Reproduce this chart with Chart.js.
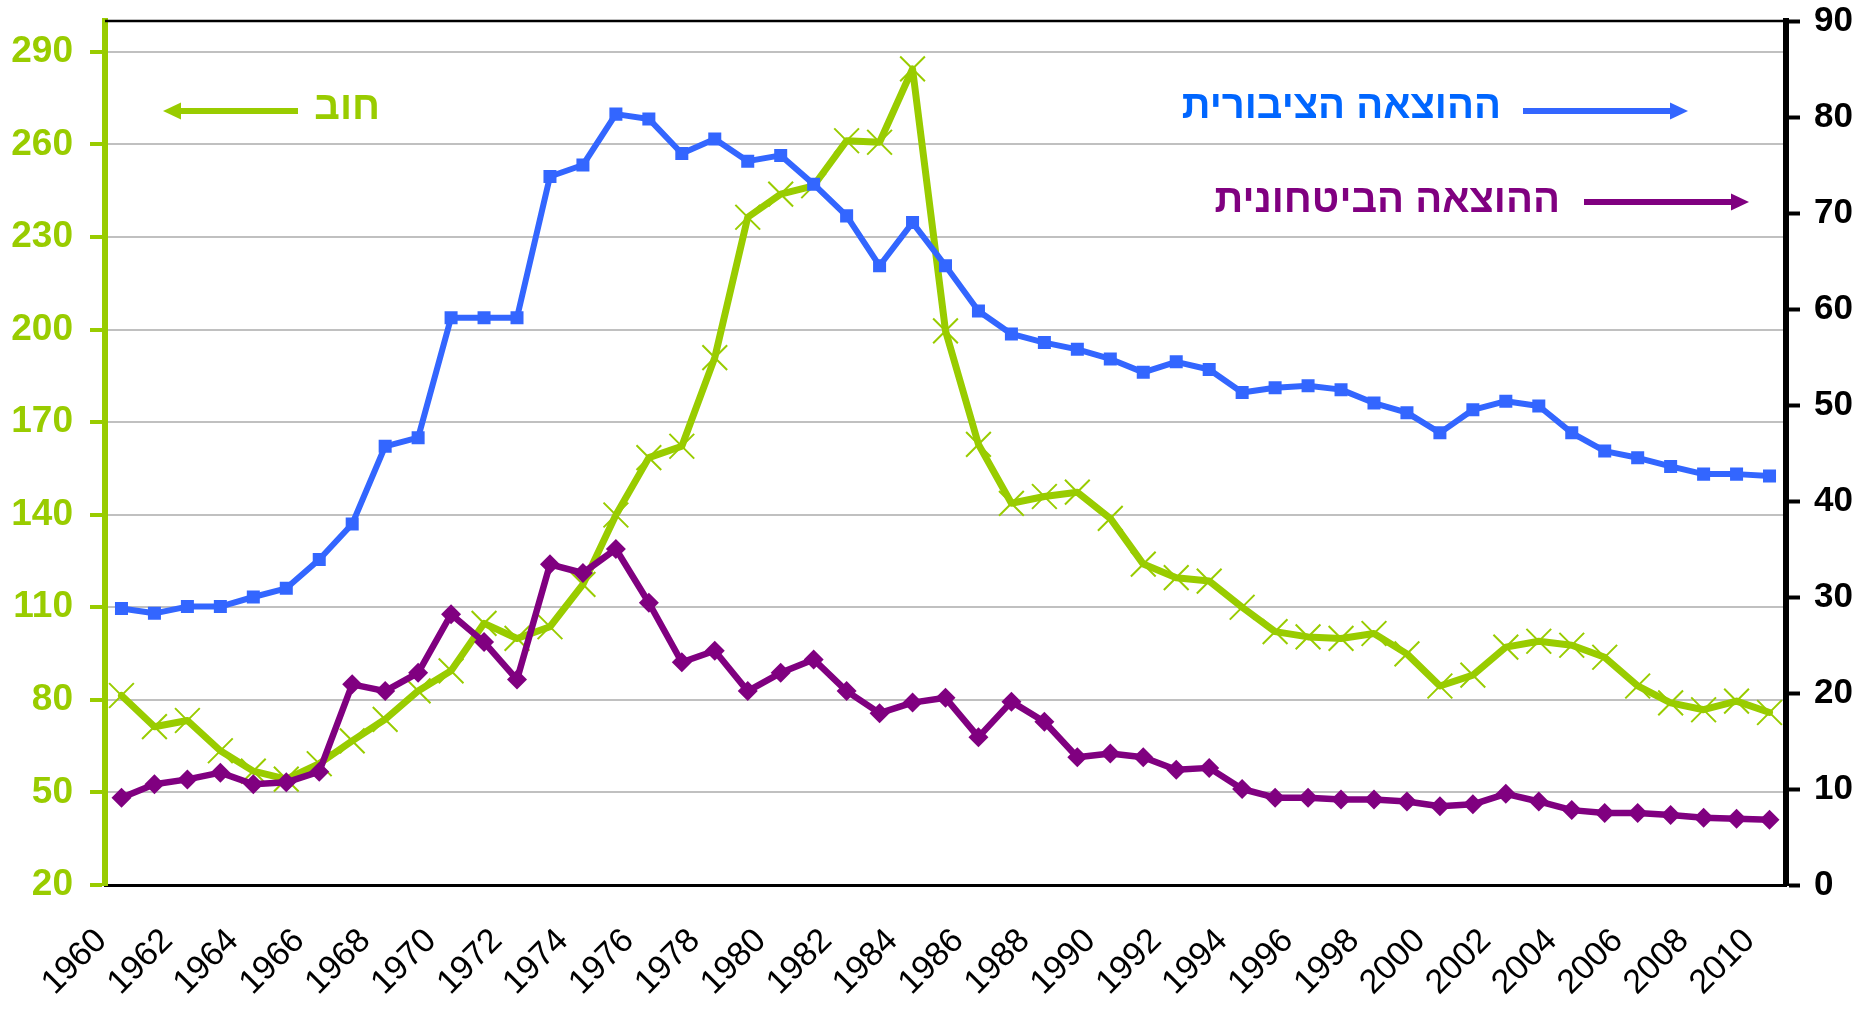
<!DOCTYPE html>
<html>
<head>
<meta charset="utf-8">
<script src="https://cdn.jsdelivr.net/npm/chart.js@4"></script>
<style>
  html, body { margin: 0; padding: 0; background: #fff; }
  canvas { display: block; }
</style>
</head>
<body>
<canvas id="debtChart" width="1875" height="1010"></canvas>
<script>
// שנים
const years = [1960, 1961, 1962, 1963, 1964, 1965, 1966, 1967, 1968, 1969,
    1970, 1971, 1972, 1973, 1974, 1975, 1976, 1977, 1978, 1979,
    1980, 1981, 1982, 1983, 1984, 1985, 1986, 1987, 1988, 1989,
    1990, 1991, 1992, 1993, 1994, 1995, 1996, 1997, 1998, 1999,
    2000, 2001, 2002, 2003, 2004, 2005, 2006, 2007, 2008, 2009, 2010];

// חוב (ציר שמאלי)
const debt = [81.4, 71.3, 73.3, 63.5, 56.9, 54.3, 59.3, 66.7, 73.7, 82.9,
    89.4, 104.8, 99.9, 103.7, 117.4, 139.9, 158.5, 162.2, 190.9, 236.4,
    243.9, 246.6, 261.2, 260.7, 284.5, 199.6, 162.8, 143.7, 145.9, 147.3,
    138.8, 124.0, 119.6, 118.5, 110.0, 102.1, 100.4, 99.9, 101.5, 94.9,
    84.5, 88.0, 97.1, 99.0, 97.7, 93.8, 84.5, 79.0, 76.8, 79.6, 75.9];

// ההוצאה הציבורית (ציר ימני)
const publicSpending = [28.8, 28.3, 29.0, 29.0, 30.0, 30.9, 33.9, 37.6, 45.7, 46.6,
    59.1, 59.1, 59.1, 73.8, 75.0, 80.3, 79.8, 76.2, 77.7, 75.4,
    76.0, 73.0, 69.7, 64.5, 69.0, 64.5, 59.8, 57.4, 56.5, 55.8,
    54.8, 53.4, 54.5, 53.7, 51.3, 51.8, 52.0, 51.6, 50.2, 49.2,
    47.1, 49.5, 50.4, 49.9, 47.1, 45.2, 44.5, 43.6, 42.8, 42.8, 42.6];

// ההוצאה הביטחונית (ציר ימני)
const defenseSpending = [9.1, 10.5, 11.0, 11.7, 10.5, 10.7, 11.8, 20.9, 20.2, 22.1,
    28.2, 25.3, 21.4, 33.4, 32.5, 35.0, 29.4, 23.2, 24.4, 20.2,
    22.1, 23.5, 20.2, 17.9, 19.0, 19.5, 15.4, 19.1, 17.0, 13.3,
    13.7, 13.3, 12.0, 12.2, 10.0, 9.1, 9.1, 8.9, 8.9, 8.7,
    8.2, 8.4, 9.5, 8.7, 7.8, 7.5, 7.5, 7.3, 7.0, 6.9, 6.8];

const leftTicks = [20, 50, 80, 110, 140, 170, 200, 230, 260, 290];
const rightTicks = [0, 10, 20, 30, 40, 50, 60, 70, 80, 90];

const GREEN = '#99cc00';
const BLUE = '#3366ff';
const PURPLE = '#800080';
const FONT = '"Liberation Sans", Arial, sans-serif';

Chart.defaults.font.family = FONT;

// חץ אופקי, הראש בנקודה x2
function drawArrow(ctx, x1, x2, y, color) {
    const dir = x2 > x1 ? 1 : -1;
    const headLen = 18, headHalf = 8.5;
    ctx.save();
    ctx.strokeStyle = color;
    ctx.fillStyle = color;
    ctx.lineWidth = 6;
    ctx.beginPath();
    ctx.moveTo(x1, y);
    ctx.lineTo(x2 - dir * headLen, y);
    ctx.stroke();
    ctx.beginPath();
    ctx.moveTo(x2, y);
    ctx.lineTo(x2 - dir * headLen, y - headHalf);
    ctx.lineTo(x2 - dir * headLen, y + headHalf);
    ctx.closePath();
    ctx.fill();
    ctx.restore();
}

const annotations = {
    id: 'annotations',
    afterDraw(chart) {
        const ctx = chart.ctx;
        const area = chart.chartArea;

        // קו עליון
        ctx.save();
        ctx.strokeStyle = '#000';
        ctx.lineWidth = 2.5;
        ctx.beginPath();
        ctx.moveTo(area.left, area.top);
        ctx.lineTo(area.right, area.top);
        ctx.stroke();

        ctx.font = 'bold 40px ' + FONT;
        ctx.textAlign = 'right';
        ctx.textBaseline = 'alphabetic';

        ctx.fillStyle = GREEN;
        ctx.fillText('חוב', 380, 119);
        ctx.fillStyle = '#0066ff';
        ctx.fillText('ההוצאה הציבורית', 1501, 118);
        ctx.fillStyle = PURPLE;
        ctx.fillText('ההוצאה הביטחונית', 1560, 212);
        ctx.restore();

        drawArrow(ctx, 298, 163, 111, GREEN);
        drawArrow(ctx, 1523, 1688, 111, BLUE);
        drawArrow(ctx, 1584, 1749, 202, PURPLE);
    }
};

// ביטול הריפוד האוטומטי של הצירים
function noPadding(scale) {
    scale.paddingTop = 0;
    scale.paddingBottom = 0;
    scale.paddingLeft = 0;
    scale.paddingRight = 0;
}

const ctx = document.getElementById('debtChart').getContext('2d');
const debtChart = new Chart(ctx, {
    type: 'line',
    data: {
        labels: years,
        datasets: [{
            label: 'ההוצאה הציבורית',
            data: publicSpending,
            yAxisID: 'y1',
            borderColor: BLUE,
            backgroundColor: BLUE,
            borderWidth: 6,
            pointStyle: 'rect',
            pointRadius: 9.2,
            pointBorderWidth: 0,
            pointBackgroundColor: BLUE
        }, {
            label: 'ההוצאה הביטחונית',
            data: defenseSpending,
            yAxisID: 'y1',
            borderColor: PURPLE,
            backgroundColor: PURPLE,
            borderWidth: 6.5,
            pointStyle: 'rectRot',
            pointRadius: 10,
            pointBorderWidth: 0,
            pointBackgroundColor: PURPLE
        }, {
            label: 'חוב',
            data: debt,
            yAxisID: 'y',
            borderColor: GREEN,
            backgroundColor: GREEN,
            borderWidth: 7,
            pointStyle: 'crossRot',
            pointRadius: 17.5,
            pointBorderWidth: 2,
            pointBorderColor: GREEN
        }]
    },
    options: {
        responsive: false,
        animation: false,
        devicePixelRatio: 1,
        layout: { padding: { top: 21, left: 0, right: 0, bottom: 0 } },
        elements: {
            line: { tension: 0, borderJoinStyle: 'round', borderCapStyle: 'round' }
        },
        plugins: {
            legend: { display: false },
            tooltip: { enabled: false }
        },
        scales: {
            x: {
                offset: true,
                grid: { display: false },
                border: { color: '#000', width: 3 },
                ticks: {
                    autoSkip: false,
                    minRotation: 45,
                    maxRotation: 45,
                    padding: 28,
                    labelOffset: -20,
                    color: '#000',
                    font: { size: 34 },
                    callback: function (value, index) {
                        return index % 2 === 0 ? years[index] : '';
                    }
                },
                afterFit: function (scale) {
                    scale.height = 125;
                    noPadding(scale);
                }
            },
            y: {
                position: 'left',
                min: 20,
                max: 300,
                afterBuildTicks: function (scale) {
                    scale.ticks = leftTicks.map(v => ({ value: v }));
                },
                grid: {
                    color: c => (c.tick && c.tick.value === 20) ? 'rgba(0,0,0,0)' : '#c0c0c0',
                    lineWidth: 2,
                    tickColor: GREEN,
                    tickWidth: 4,
                    tickLength: 15
                },
                border: { color: GREEN, width: 6 },
                ticks: {
                    color: GREEN,
                    padding: 17,
                    font: { size: 37, weight: 'bold' }
                },
                afterFit: function (scale) {
                    scale.width = 105;
                    noPadding(scale);
                }
            },
            y1: {
                position: 'right',
                min: 0,
                max: 90,
                afterBuildTicks: function (scale) {
                    scale.ticks = rightTicks.map(v => ({ value: v }));
                },
                grid: {
                    drawOnChartArea: false,
                    tickColor: '#000',
                    tickWidth: 4,
                    tickLength: 14
                },
                border: { color: '#000', width: 6 },
                ticks: {
                    color: '#000',
                    padding: 14,
                    font: { size: 35, weight: 'bold' }
                },
                afterFit: function (scale) {
                    scale.width = 89;
                    noPadding(scale);
                }
            }
        }
    },
    plugins: [annotations]
});
</script>
</body>
</html>
